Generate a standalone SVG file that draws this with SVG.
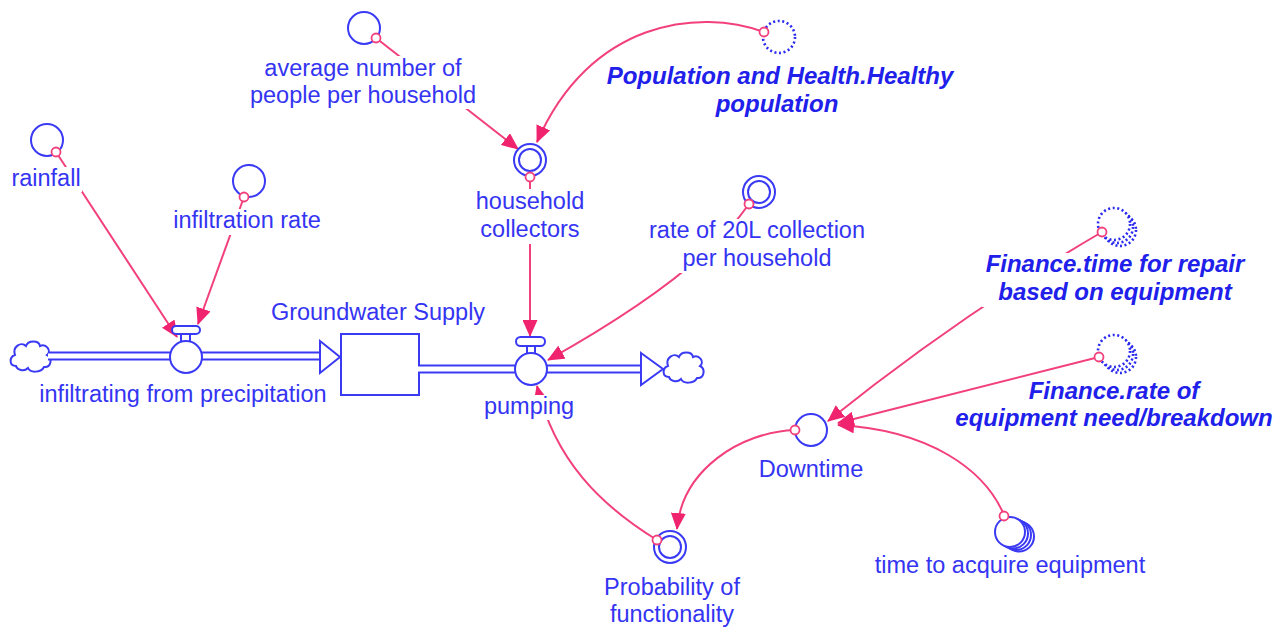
<svg xmlns="http://www.w3.org/2000/svg" width="1288" height="630" viewBox="0 0 1288 630">
<style>
.t{font-family:"Liberation Sans",Arial,sans-serif;font-size:23.5px;fill:#3434f2;text-anchor:middle}
.tb{font-family:"Liberation Sans",Arial,sans-serif;font-size:24px;font-weight:bold;font-style:italic;fill:#2020ea;text-anchor:middle}
.bg{fill:#fff;stroke:none}
.aux{fill:#fff;stroke:#3a3af5;stroke-width:2}
.dot{fill:#fff;stroke:#2a2af0;stroke-width:2.6;stroke-dasharray:2 2.6}
.ring{fill:#fff;stroke:#f2407c;stroke-width:1.8}
.lnk{fill:none;stroke:#f2407c;stroke-width:2;marker-end:url(#ah)}
.pipeo{stroke:#3a3af5;stroke-width:9;fill:none}
.pipei{stroke:#fff;stroke-width:5;fill:none}
.blue{fill:#fff;stroke:#3a3af5;stroke-width:2}
</style>
<defs>
<marker id="ah" markerUnits="userSpaceOnUse" markerWidth="18" markerHeight="15" refX="16" refY="7.5" orient="auto" viewBox="0 0 18 15">
<path d="M0,0 L17,7.5 L0,15 z" fill="#f0246e"/>
</marker>
<path id="cloud" d="M-15,9 C-22,9 -22,0 -16,-2 C-19,-10 -10,-16 -5,-11 C-3,-17 8,-17 9,-11 C15,-14 21,-6 16,-2 C22,1 20,11 13,10 C10,16 -1,16 -3,11 C-7,15 -14,13 -15,9 Z"/>
</defs>
<rect width="1288" height="630" fill="#fff"/>

<g id="connectors">
<path class="lnk" d="M56,152 L177,337"/>
<path class="lnk" d="M244,197 L198,324"/>
<path class="lnk" d="M376,38 L518,149"/>
<path class="lnk" d="M764,32 C700,8 590,20 537,142"/>
<path class="lnk" d="M530,177 L530,336"/>
<path class="lnk" d="M749,204 Q700,275 548,360"/>
<path class="lnk" d="M657,540 C600,505 555,460 537,386"/>
<path class="lnk" d="M1102,232 Q960,315 828,421"/>
<path class="lnk" d="M1099,357 L838,423"/>
<path class="lnk" d="M1004,515 C985,470 930,430 838,425"/>
<path class="lnk" d="M795,430 C740,432 682,470 677,529"/>
</g>

<g id="flow-infiltrating">
<use href="#cloud" x="31" y="357" class="blue"/>
<line class="pipeo" x1="48" y1="356" x2="322" y2="356"/>
<line class="pipei" x1="48" y1="356" x2="323" y2="356"/>
<path class="blue" d="M320,341 L340,357 L320,373 Z"/>
<rect class="blue" x="181" y="333" width="9" height="10"/>
<rect class="blue" x="172" y="326" width="28" height="8" rx="4"/>
<circle class="blue" cx="186" cy="357" r="16"/>
<text class="t" x="183" y="402">infiltrating from precipitation</text>
</g>

<g id="stock-groundwater">
<rect class="blue" x="341" y="334" width="78" height="61"/>
<text class="t" x="378" y="320">Groundwater Supply</text>
</g>

<g id="flow-pumping">
<line class="pipeo" x1="419" y1="369" x2="643" y2="369"/>
<line class="pipei" x1="417" y1="369" x2="644" y2="369"/>
<path class="blue" d="M641,353 L663,369 L641,385 Z"/>
<use href="#cloud" x="684" y="368" class="blue"/>
<rect class="blue" x="527" y="345" width="8" height="9"/>
<rect class="blue" x="516" y="337" width="29" height="9" rx="4.5"/>
<circle class="blue" cx="531" cy="369" r="16"/>
<rect class="bg" x="478" y="395" width="102" height="25"/>
<text class="t" x="529" y="414">pumping</text>
</g>

<g id="rainfall">
<circle class="aux" cx="47" cy="140" r="16"/>
<circle class="ring" cx="56" cy="152" r="4.5"/>
<rect class="bg" x="10" y="167" width="72" height="25"/>
<text class="t" x="46" y="186">rainfall</text>
</g>

<g id="infiltration-rate">
<circle class="aux" cx="249" cy="181" r="16"/>
<circle class="ring" cx="244" cy="197" r="4.5"/>
<rect class="bg" x="170" y="209" width="154" height="26"/>
<text class="t" x="247" y="228">infiltration rate</text>
</g>

<g id="average-people">
<circle class="aux" cx="364" cy="28" r="16"/>
<circle class="ring" cx="376" cy="38" r="4.5"/>
<rect class="bg" x="246" y="56" width="234" height="53"/>
<text class="t" x="363" y="76">average number of</text>
<text class="t" x="363" y="103">people per household</text>
</g>

<g id="healthy-population">
<circle class="dot" cx="779" cy="37" r="16"/>
<circle class="ring" cx="764" cy="32" r="4.5"/>
<text class="tb" x="780" y="84">Population and Health.Healthy</text>
<text class="tb" x="777" y="112">population</text>
</g>

<g id="household-collectors">
<circle class="aux" cx="530" cy="160" r="16"/>
<circle class="aux" cx="530" cy="160" r="11"/>
<circle class="ring" cx="530" cy="177" r="4.5"/>
<rect class="bg" x="468" y="189" width="124" height="55"/>
<text class="t" x="530" y="209">household</text>
<text class="t" x="530" y="237">collectors</text>
</g>

<g id="rate-20l">
<circle class="aux" cx="759" cy="192" r="16"/>
<circle class="aux" cx="759" cy="192" r="11"/>
<circle class="ring" cx="749" cy="204" r="4.5"/>
<rect class="bg" x="644" y="219" width="226" height="54"/>
<text class="t" x="757" y="238">rate of 20L collection</text>
<text class="t" x="757" y="266">per household</text>
</g>

<g id="finance-time-repair">
<circle class="dot" cx="1120" cy="230" r="16"/>
<circle class="dot" cx="1117" cy="227" r="16"/>
<circle class="dot" cx="1114" cy="224" r="16"/>
<circle class="ring" cx="1102" cy="232" r="4.5"/>
<rect class="bg" x="982" y="253" width="268" height="54"/>
<text class="tb" x="1115" y="272">Finance.time for repair</text>
<text class="tb" x="1115" y="300">based on equipment</text>
</g>

<g id="finance-rate-breakdown">
<circle class="dot" cx="1120" cy="357" r="16"/>
<circle class="dot" cx="1117" cy="354" r="16"/>
<circle class="dot" cx="1114" cy="351" r="16"/>
<circle class="ring" cx="1099" cy="357" r="4.5"/>
<text class="tb" x="1114" y="399">Finance.rate of</text>
<text class="tb" x="1114" y="426">equipment need/breakdown</text>
</g>

<g id="downtime">
<circle class="aux" cx="811" cy="430" r="16"/>
<circle class="ring" cx="795" cy="430" r="4.5"/>
<text class="t" x="811" y="477">Downtime</text>
</g>

<g id="probability-functionality">
<circle class="aux" cx="670" cy="547" r="16"/>
<circle class="aux" cx="670" cy="547" r="11"/>
<circle class="ring" cx="657" cy="540" r="4.5"/>
<text class="t" x="672" y="595">Probability of</text>
<text class="t" x="672" y="622">functionality</text>
</g>

<g id="time-acquire-equipment">
<circle class="aux" cx="1019" cy="536.5" r="15"/>
<circle class="aux" cx="1016" cy="535" r="15"/>
<circle class="aux" cx="1013" cy="533.5" r="15"/>
<circle class="aux" cx="1010" cy="532" r="15"/>
<circle class="ring" cx="1004" cy="516" r="4.5"/>
<text class="t" x="1010" y="573">time to acquire equipment</text>
</g>
</svg>
